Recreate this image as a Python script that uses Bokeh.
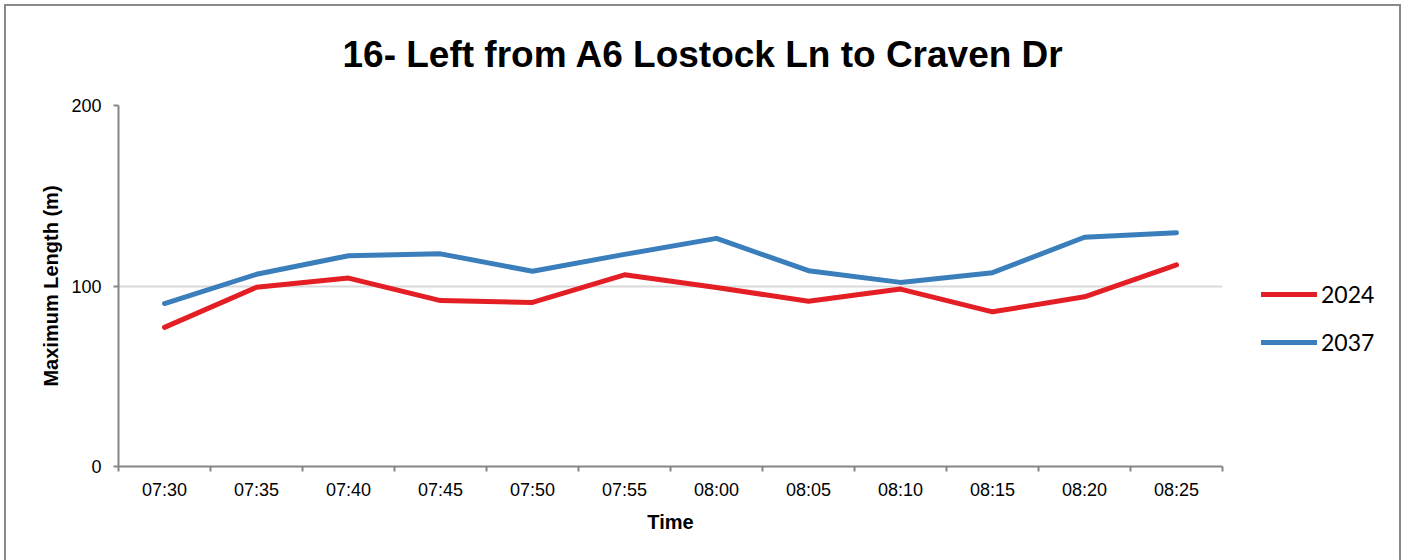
from bokeh.plotting import figure
from bokeh.layouts import row
from bokeh.models import FixedTicker, Legend, LegendItem, Range1d
from bokeh.embed import file_html
from bokeh.resources import INLINE

title_text = "16- Left from A6 Lostock Ln to Craven Dr"
times = ["07:30", "07:35", "07:40", "07:45", "07:50", "07:55",
         "08:00", "08:05", "08:10", "08:15", "08:20", "08:25"]
series_names = ["2024", "2037"]
series_colors = ["#E41E25", "#3B7EBC"]
y2024 = [77.1, 99.3, 104.4, 91.9, 90.9, 106.2, 99.2, 91.5, 98.3, 85.7, 94.0, 111.7]
y2037 = [90.3, 106.5, 116.8, 117.8, 108.2, 117.5, 126.4, 108.5, 102.0, 107.4, 127.0, 129.5]
y_ticks = [0, 100, 200]
x_label = "Time"
y_label = "Maximum Length (m)"

x = [i + 0.5 for i in range(len(times))]
series = [y2024, y2037]

AX = "#868686"
BORDER = "#898989"
FONT = "Liberation Sans"
LINE = dict(line_width=5, line_cap="round", line_join="round")

p = figure(width=1240, height=560, output_backend="svg", toolbar_location=None,
           x_range=Range1d(0, len(times)), y_range=Range1d(y_ticks[0], y_ticks[-1]),
           min_border_left=118, min_border_right=18, min_border_top=103, min_border_bottom=94)
p.outline_line_color = None
p.background_fill_color = "white"
p.border_fill_alpha = 0

p.title.text = title_text
p.title.text_font = FONT
p.title.text_font_size = "37px"
p.title.text_font_style = "bold"
p.title.text_color = "black"
p.title.align = "left"
p.title.offset = 224
p.title.standoff = 62

for ys, c in zip(series, series_colors):
    p.line(x, ys, line_color=c, **LINE)

# x axis: labels centred on categories, ticks on category boundaries
p.xaxis.ticker = FixedTicker(ticks=x, minor_ticks=list(range(len(times) + 1)))
p.xaxis.major_label_overrides = {xi: t for xi, t in zip(x, times)}
p.xaxis.major_tick_out = 0
p.xaxis.major_tick_in = 0
p.xaxis.minor_tick_out = 5
p.xaxis.minor_tick_in = 0
p.xaxis.minor_tick_line_color = AX
p.xaxis.minor_tick_line_width = 2
p.xaxis.major_label_standoff = 8
p.xaxis.axis_label = x_label
p.xaxis.axis_label_standoff = 8

# y axis
p.yaxis.ticker = FixedTicker(ticks=y_ticks, minor_ticks=[])
p.yaxis.major_tick_out = 5
p.yaxis.major_tick_in = 0
p.yaxis.major_tick_line_color = AX
p.yaxis.major_tick_line_width = 2
p.yaxis.major_label_standoff = 12
p.yaxis.axis_label = y_label
p.yaxis.axis_label_standoff = 6

for ax in (p.xaxis, p.yaxis):
    ax.axis_line_color = AX
    ax.axis_line_width = 2
    ax.major_label_text_font = FONT
    ax.major_label_text_font_size = "18px"
    ax.major_label_text_color = "black"
    ax.axis_label_text_font = FONT
    ax.axis_label_text_font_size = "20px"
    ax.axis_label_text_font_style = "bold"
    ax.axis_label_text_color = "black"

p.xgrid.visible = False
p.ygrid.grid_line_color = "#D9D9D9"
p.ygrid.grid_line_width = 2

# legend panel to the right of the chart (its own copies of the series lie outside its view)
pl = figure(width=165, height=560, output_backend="svg", toolbar_location=None,
            x_range=Range1d(-2, -1), y_range=Range1d(y_ticks[0], y_ticks[-1]),
            min_border_left=0, min_border_right=0, min_border_top=0, min_border_bottom=0)
pl.axis.visible = False
pl.grid.visible = False
pl.outline_line_color = None
pl.background_fill_alpha = 0
pl.border_fill_alpha = 0
lr = [pl.line(x, ys, line_color=c, **LINE) for ys, c in zip(series, series_colors)]

legend = Legend(items=[LegendItem(label=n, renderers=[r]) for n, r in zip(series_names, lr)],
                location=(21, 110), orientation="vertical",
                border_line_color=None, background_fill_alpha=0,
                label_text_font="Lato", label_text_font_size="23px",
                label_text_color="black",
                glyph_width=56, glyph_height=24, label_height=24,
                label_standoff=4, spacing=20, padding=0, margin=0)
pl.add_layout(legend, "center")

layout = row(p, pl, spacing=0)
layout.styles = {"box-shadow": ("inset 4px 4px 0 0 white, inset -4px 0 0 0 white, "
                                f"inset 6px 6px 0 0 {BORDER}, inset -6px 0 0 0 {BORDER}")}

open("out.html", "w").write(file_html(layout, INLINE))
